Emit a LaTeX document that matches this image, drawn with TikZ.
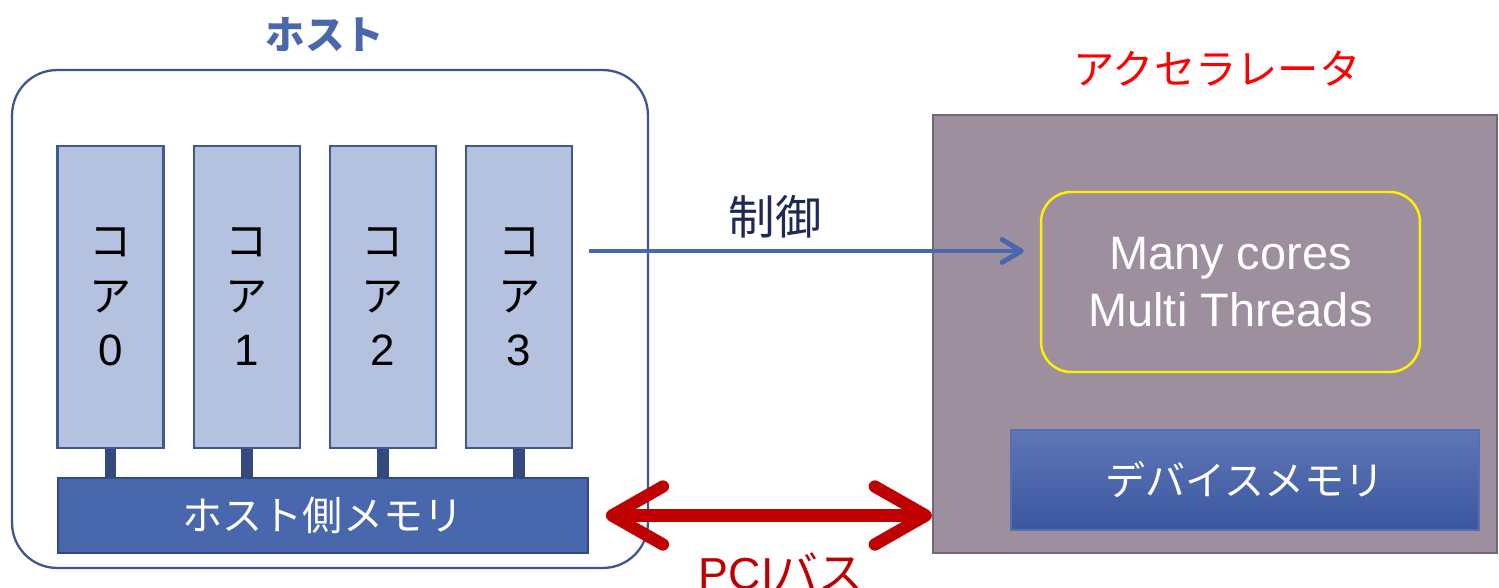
\documentclass[tikz,border=0pt]{standalone}
\usepackage{fontspec}
\setmainfont{Liberation Sans}
\newfontfamily\jp{Noto Sans CJK JP}
\usetikzlibrary{positioning,arrows.meta,calc}
\definecolor{hostblue}{HTML}{4A66AC}
\definecolor{hostline}{HTML}{3C5690}
\definecolor{corefill}{HTML}{B4C1DF}
\definecolor{coreline}{HTML}{3F5A93}
\definecolor{barblue}{HTML}{34497E}
\definecolor{hmemfill}{HTML}{4967AD}
\definecolor{hmemline}{HTML}{2F4B82}
\definecolor{ctltext}{HTML}{1F2955}
\definecolor{accfill}{HTML}{9D8F9E}
\definecolor{accline}{HTML}{736775}
\definecolor{dmtop}{HTML}{5F77B7}
\definecolor{dmbot}{HTML}{3B56A0}
\definecolor{dmline}{HTML}{5570B2}
\definecolor{pcired}{HTML}{C00000}

\begin{document}
\begin{tikzpicture}[x=0.02cm, y=-0.02cm,
      core/.style={draw=coreline, fill=corefill, line width=1.3pt, minimum width=2.12cm, minimum height=6.04cm,
        inner sep=0pt, align=center, font=\fontsize{25}{31}\selectfont},
      bar/.style={draw=barblue, line width=6.8pt},
      mem/.style={line width=1pt, inner sep=0pt, text=white, font=\jp\fontsize{22.8}{27}\selectfont},
      ctl/.style={draw=hostblue, line width=2.8pt, -{Straight Barb[round, length=11pt, width=13pt]}},
      pci/.style={draw=pcired, line width=7pt,
        {Straight Barb[round, length=29pt, width=33pt]}-{Straight Barb[round, length=29pt, width=33pt]}}]
      \useasboundingbox (0,0) rectangle (1499,588);
      \begin{scope}
        \node[draw=hostline, line width=1.3pt, rounded corners=0.9cm, minimum width=12.72cm, minimum height=9.96cm] (host) at (330,319) {};
        \node[font=\jp\bfseries\fontsize{22.5}{27}\selectfont, text=hostblue] (hosttitle) at (325,35) {ホスト};
        \foreach \i in {0,...,3}
          \node[core] (c\i) at (110.5+136.2*\i,297) {{\jp\fontsize{24}{31}\selectfont コ}\\{\jp\fontsize{24}{31}\selectfont ア}\\\i};
        \node[mem, fill=hmemfill, draw=hmemline, minimum width=10.6cm, minimum height=1.5cm] (hmem) at (323,515.5) {ホスト側メモリ};
        \foreach \i in {0,...,3}
          \draw[bar] (c\i.south) -- (c\i.south |- hmem.north);
      \end{scope}
      \begin{scope}
        \node[draw=accline, fill=accfill, line width=1.3pt, minimum width=11.28cm, minimum height=8.76cm] (acc) at (1215,334) {};
        \node[font=\jp\fontsize{23.5}{27}\selectfont, text=red] (acctitle) at (1217,69) {アクセラレータ};
        \node[draw=yellow, line width=1.4pt, rounded corners=0.6cm, minimum width=7.58cm, minimum height=3.6cm,
          text=white, align=center, font=\fontsize{26.7}{32.3}\selectfont] (mc) at (1230.5,282) {Many cores\\Multi Threads};
        \node[mem, top color=dmtop, bottom color=dmbot, draw=dmline, minimum width=9.36cm, minimum height=2cm] (dmem) at (1245,480) {デバイスメモリ};
      \end{scope}
      \draw[ctl] ([shift={(16,-46)}]c3.east) -- ([shift={(-16,-31)}]mc.west);
      \node[font=\jp\fontsize{26.5}{30}\selectfont, text=ctltext] (ctllabel) at (775,217) {制御};
      \draw[pci] ([shift={(17,0)}]hmem.east) -- (hmem.east -| acc.west);
      \node[font=\fontsize{25.5}{30}\selectfont, text=pcired, anchor=base] (pcilabel) at (781,589) {PCI{\jp バス}};
    \end{tikzpicture}
\end{document}
